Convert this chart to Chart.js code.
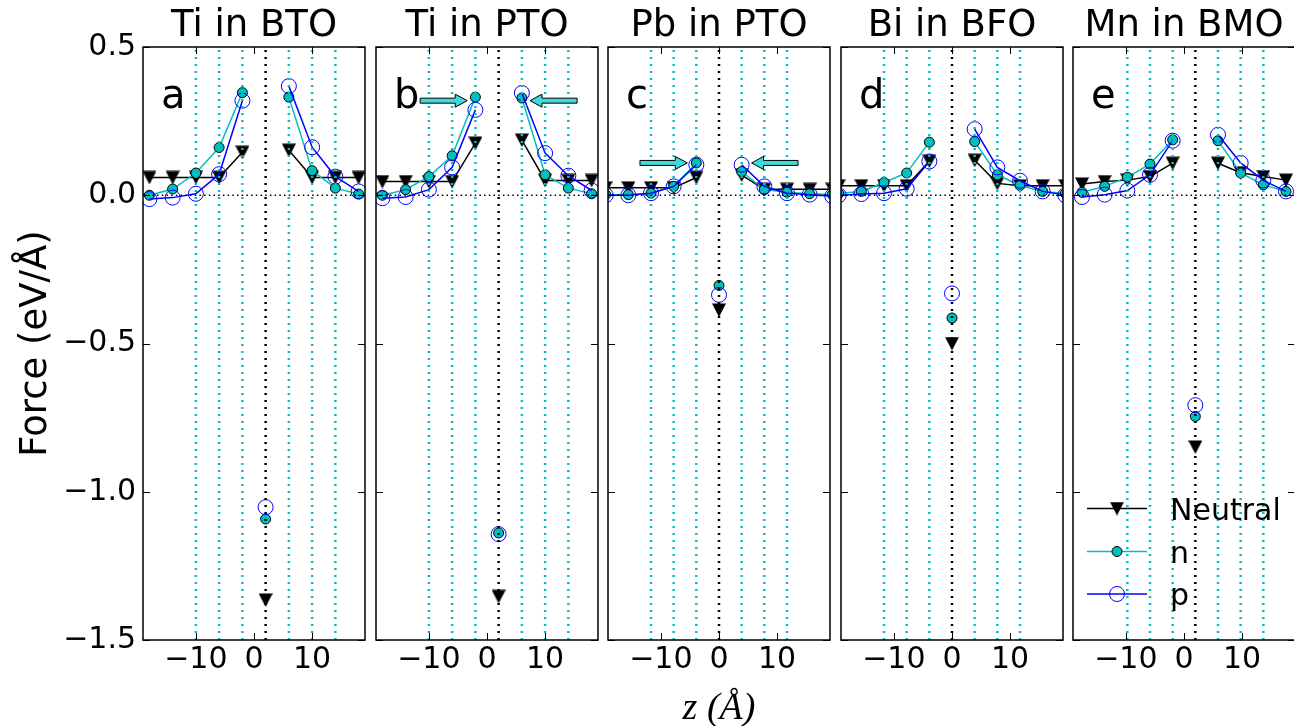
<!DOCTYPE html>
<html><head><meta charset="utf-8">
<script src="https://cdn.jsdelivr.net/npm/chart.js@4.4.1/dist/chart.umd.min.js"></script>
<style>
html,body{margin:0;padding:0;background:#fff;overflow:hidden;width:1294px;height:726px;position:relative;}
.panel{position:absolute;top:0;height:726px;}
</style></head><body>
<script>
// ---------- data ----------
const titles = ['Ti in BTO', 'Ti in PTO', 'Pb in PTO', 'Bi in BFO', 'Mn in BMO'];
const letters = ['a', 'b', 'c', 'd', 'e'];
const xTickValues = [-10, 0, 10];
const yTickValues = [-1.5, -1.0, -0.5, 0.0, 0.5];

const zA = [-18, -14, -10, -6, -2, 2, 6, 10, 14, 18];
const neutralA = [0.06, 0.06, 0.06, 0.06, 0.145, -1.365, 0.152, 0.06, 0.06, 0.06];
const nA = [0.0, 0.021, 0.075, 0.161, 0.346, -1.092, 0.331, 0.083, 0.024, 0.004];
const pA = [-0.013, -0.008, 0.005, 0.071, 0.319, -1.052, 0.368, 0.162, 0.063, 0.013];
const planesA = [-10, -6, -2, 6, 10, 14];
const centerA = 2;

const zB = [-18, -14, -10, -6, -2, 2, 6, 10, 14, 18];
const neutralB = [0.046, 0.046, 0.046, 0.046, 0.176, -1.353, 0.186, 0.05, 0.05, 0.05];
const nB = [0.0, 0.019, 0.063, 0.133, 0.331, -1.139, 0.328, 0.069, 0.024, 0.005];
const pB = [-0.01, -0.006, 0.019, 0.094, 0.288, -1.143, 0.345, 0.142, 0.066, 0.016];
const planesB = [-10, -6, -2, 6, 10, 14];
const centerB = 2;
const arrowsB = [[-11.5, -3.4, 0.319], [15.5, 7.4, 0.319]];

const zC = [-19.5, -15.6, -11.7, -7.8, -3.9, 0, 3.9, 7.8, 11.7, 15.6, 19.5];
const neutralC = [0.025, 0.025, 0.025, 0.025, 0.06, -0.387, 0.068, 0.02, 0.02, 0.02, 0.02];
const nC = [0.002, 0.002, 0.007, 0.03, 0.109, -0.304, 0.08, 0.019, 0.01, 0.005, 0.002];
const pC = [0.0, 0.0, 0.007, 0.03, 0.103, -0.336, 0.103, 0.03, 0.007, 0.002, -0.003];
const planesC = [-11.7, -7.8, -3.9, 3.9, 7.8, 11.7];
const centerC = 0;
const arrowsC = [[-13.6, -5.45, 0.109], [13.6, 5.6, 0.109]];

const zD = [-19.5, -15.6, -11.7, -7.8, -3.9, 0, 3.9, 7.8, 11.7, 15.6, 19.5];
const neutralD = [0.032, 0.032, 0.032, 0.032, 0.115, -0.5, 0.118, 0.04, 0.032, 0.032, 0.032];
const nD = [0.006, 0.013, 0.043, 0.075, 0.179, -0.414, 0.181, 0.069, 0.033, 0.013, 0.006];
const pD = [0.0, 0.004, 0.007, 0.022, 0.114, -0.331, 0.223, 0.094, 0.049, 0.013, 0.0];
const planesD = [-11.7, -7.8, -3.9, 3.9, 7.8, 11.7];
const centerD = 0;

const zE = [-17.55, -13.65, -9.75, -5.85, -1.95, 1.95, 5.85, 9.75, 13.65, 17.55];
const neutralE = [0.038, 0.046, 0.051, 0.063, 0.108, -0.849, 0.108, 0.076, 0.063, 0.051];
const nE = [0.01, 0.03, 0.061, 0.105, 0.187, -0.746, 0.184, 0.075, 0.035, 0.013];
const pE = [-0.006, 0.002, 0.016, 0.069, 0.184, -0.708, 0.204, 0.109, 0.05, 0.013];
const planesE = [-9.75, -5.85, -1.95, 5.85, 9.75, 13.65];
const centerE = 1.95;

const xRange = [-19.1, 19.1];
const yRange = [-1.5, 0.5];
const letterPos = [-16, 0.295];
const legendLabels = ['Neutral', 'n', 'p'];

// ---------- styling / layout ----------
const CYAN = '#00BFBF', BLUE = '#0000FF', BLACK = '#000000', ARROW = '#3FD9D9';
const FONT = '"DejaVu Sans", sans-serif';
Chart.defaults.font.family = FONT;
Chart.defaults.color = '#000';

const panels = [
  {z: zA, neu: neutralA, n: nA, p: pA, planes: planesA, center: centerA, arrows: []},
  {z: zB, neu: neutralB, n: nB, p: pB, planes: planesB, center: centerB, arrows: arrowsB},
  {z: zC, neu: neutralC, n: nC, p: pC, planes: planesC, center: centerC, arrows: arrowsC},
  {z: zD, neu: neutralD, n: nD, p: pD, planes: planesD, center: centerD, arrows: []},
  {z: zE, neu: neutralE, n: nE, p: pE, planes: planesE, center: centerE, arrows: []}
];
const plotLefts = [143, 376, 608, 841, 1073];
const plotW = 222;

// downward triangle marker
const tri = document.createElement('canvas');
tri.width = 14; tri.height = 14;
(function(){const c = tri.getContext('2d'); c.fillStyle = '#000'; c.beginPath();
  c.moveTo(0, 0.5); c.lineTo(14, 0.5); c.lineTo(7, 14); c.closePath(); c.fill();})();

function seriesData(z, vals, cx) {
  const out = [];
  vals.forEach((v, i) => {
    if (z[i] === cx) out.push({x: z[i], y: null});
    out.push({x: z[i], y: v});
    if (z[i] === cx) out.push({x: z[i], y: null});
  });
  return out;
}

function drawArrow(ctx, x0, x1, y) {
  const d = Math.sign(x1 - x0), hl = 12, hw = 6.5, sw = 2.5;
  ctx.beginPath();
  ctx.moveTo(x0, y - sw);
  ctx.lineTo(x1 - d * hl, y - sw);
  ctx.lineTo(x1 - d * hl, y - hw);
  ctx.lineTo(x1, y);
  ctx.lineTo(x1 - d * hl, y + hw);
  ctx.lineTo(x1 - d * hl, y + sw);
  ctx.lineTo(x0, y + sw);
  ctx.closePath();
  ctx.fillStyle = ARROW; ctx.fill();
  ctx.lineWidth = 1; ctx.strokeStyle = BLACK; ctx.stroke();
}

const decor = {
  id: 'decor',
  afterDatasetsDraw(chart, args, opts) {
    const {ctx, chartArea: {left, right, top, bottom}, scales: {x, y}} = chart;
    ctx.save();
    (opts.arrows || []).forEach(a => drawArrow(ctx, x.getPixelForValue(a[0]), x.getPixelForValue(a[1]), y.getPixelForValue(a[2])));
    ctx.fillStyle = BLACK;
    ctx.font = '40px ' + FONT; ctx.textAlign = 'left'; ctx.textBaseline = 'alphabetic';
    ctx.fillText(opts.letter, x.getPixelForValue(letterPos[0]), y.getPixelForValue(letterPos[1]));
    // ticks (inward)
    ctx.strokeStyle = BLACK; ctx.lineWidth = 1;
    const L = 7;
    ctx.beginPath();
    x.ticks.forEach(t => {
      const px = Math.round(x.getPixelForValue(t.value)) + 0.5;
      ctx.moveTo(px, bottom); ctx.lineTo(px, bottom - L);
      ctx.moveTo(px, top); ctx.lineTo(px, top + L);
    });
    y.ticks.forEach(t => {
      const py = Math.round(y.getPixelForValue(t.value)) + 0.5;
      ctx.moveTo(left, py); ctx.lineTo(left + L, py);
      ctx.moveTo(right, py); ctx.lineTo(right - L, py);
    });
    ctx.stroke();
    // frame
    ctx.lineWidth = 1.5;
    ctx.strokeRect(left, top, right - left, bottom - top);
    // legend
    if (opts.legend) {
      const rows = [508.5, 551.5, 594];
      const x0 = left + 14, x1 = left + 74, xm = left + 44, xt = left + 97;
      ctx.font = '30px ' + FONT;
      rows.forEach((ry, i) => {
        ctx.beginPath(); ctx.moveTo(x0, ry); ctx.lineTo(x1, ry);
        ctx.lineWidth = 1.5; ctx.strokeStyle = [BLACK, CYAN, BLUE][i]; ctx.stroke();
        if (i === 0) ctx.drawImage(tri, xm - 7, ry - 7);
        else if (i === 1) { ctx.beginPath(); ctx.arc(xm, ry, 5, 0, Math.PI * 2); ctx.fillStyle = CYAN; ctx.fill(); ctx.lineWidth = 1; ctx.strokeStyle = BLACK; ctx.stroke(); }
        else { ctx.beginPath(); ctx.arc(xm, ry, 7.5, 0, Math.PI * 2); ctx.lineWidth = 1; ctx.strokeStyle = BLUE; ctx.stroke(); }
        ctx.fillStyle = BLACK; ctx.textBaseline = 'alphabetic';
        ctx.fillText(legendLabels[i], xt, ry + 11);
      });
    }
    ctx.restore();
  }
};

const fmt = v => (v < 0 ? '\u2212' : '') + Math.abs(v);
const fmtY = v => (v < -1e-9 ? '\u2212' : '') + Math.abs(v).toFixed(1);

panels.forEach((P, i) => {
  const yW = i === 0 ? 143 : 2;
  const left = plotLefts[i] - yW;
  const W = yW + plotW + 2;
  const div = document.createElement('div');
  div.className = 'panel';
  div.style.left = left + 'px';
  div.style.width = W + 'px';
  const cv = document.createElement('canvas');
  cv.width = W; cv.height = 726;
  cv.style.width = W + 'px'; cv.style.height = '726px';
  div.appendChild(cv);
  document.body.appendChild(div);

  const common = {showLine: true, clip: 0, pointHoverRadius: 0};
  const datasets = [];
  P.planes.forEach(v => datasets.push({data: [{x: v, y: yRange[0]}, {x: v, y: yRange[1]}], borderColor: CYAN, borderWidth: 2.5, borderDash: [2, 5], pointRadius: 0, order: 1, ...common}));
  datasets.push({data: [{x: P.center, y: yRange[0]}, {x: P.center, y: yRange[1]}], borderColor: BLACK, borderWidth: 2.5, borderDash: [2, 5], pointRadius: 0, order: 1, ...common});
  datasets.push({data: [{x: xRange[0], y: 0}, {x: xRange[1], y: 0}], borderColor: BLACK, borderWidth: 1.5, borderDash: [1.5, 3.2], pointRadius: 0, order: 2, ...common});
  datasets.push({label: 'p', data: seriesData(P.z, P.p, P.center), borderColor: BLUE, borderWidth: 1.5, pointStyle: 'circle', pointRadius: 7.5, pointBackgroundColor: 'rgba(0,0,0,0)', pointBorderColor: BLUE, pointBorderWidth: 1, order: 3, ...common});
  datasets.push({label: 'n', data: seriesData(P.z, P.n, P.center), borderColor: CYAN, borderWidth: 1.5, pointStyle: 'circle', pointRadius: 5, pointBackgroundColor: CYAN, pointBorderColor: BLACK, pointBorderWidth: 1, order: 4, ...common});
  datasets.push({label: 'Neutral', data: seriesData(P.z, P.neu, P.center), borderColor: BLACK, borderWidth: 1.5, pointStyle: tri, pointRadius: 7, order: 5, ...common});

  new Chart(cv, {
    type: 'scatter',
    data: {datasets},
    plugins: [decor],
    options: {
      responsive: false, animation: false, events: [],
      layout: {autoPadding: false, padding: {left: 0, right: 2, top: 0, bottom: 0}},
      plugins: {
        legend: {display: false}, tooltip: {enabled: false},
        title: {display: true, text: titles[i], fullSize: false, color: '#000',
          font: {size: 37, weight: 'normal', lineHeight: 1}, padding: {top: 8, bottom: 2}},
        decor: {letter: letters[i], arrows: P.arrows, legend: i === 4}
      },
      scales: {
        x: {type: 'linear', min: xRange[0], max: xRange[1],
          afterBuildTicks: s => { s.ticks = xTickValues.map(v => ({value: v})); },
          afterFit: s => { s.height = 86; s.paddingLeft = 0; s.paddingRight = 0; },
          grid: {display: false, drawTicks: false}, border: {display: false},
          ticks: {font: {size: 30}, padding: 2, color: '#000', maxRotation: 0, autoSkip: false, callback: v => fmt(v)},
          title: {display: i === 2, text: 'z (Å)', color: '#000',
            font: {family: '"Liberation Serif", serif', style: 'italic', size: 38, lineHeight: 0.9}, padding: {top: 0, bottom: 0}}
        },
        y: {type: 'linear', min: yRange[0], max: yRange[1],
          afterBuildTicks: s => { s.ticks = yTickValues.map(v => ({value: v})); },
          afterFit: s => { s.width = yW; s.paddingTop = 0; s.paddingBottom = 0; },
          grid: {display: false, drawTicks: false}, border: {display: false},
          ticks: {display: i === 0, font: {size: 30}, padding: 7, color: '#000', callback: v => fmtY(v)},
          title: {display: i === 0, text: 'Force (eV/Å)', color: '#000', font: {size: 37}, padding: {top: 14}}
        }
      }
    }
  });
});
</script>
</body></html>
